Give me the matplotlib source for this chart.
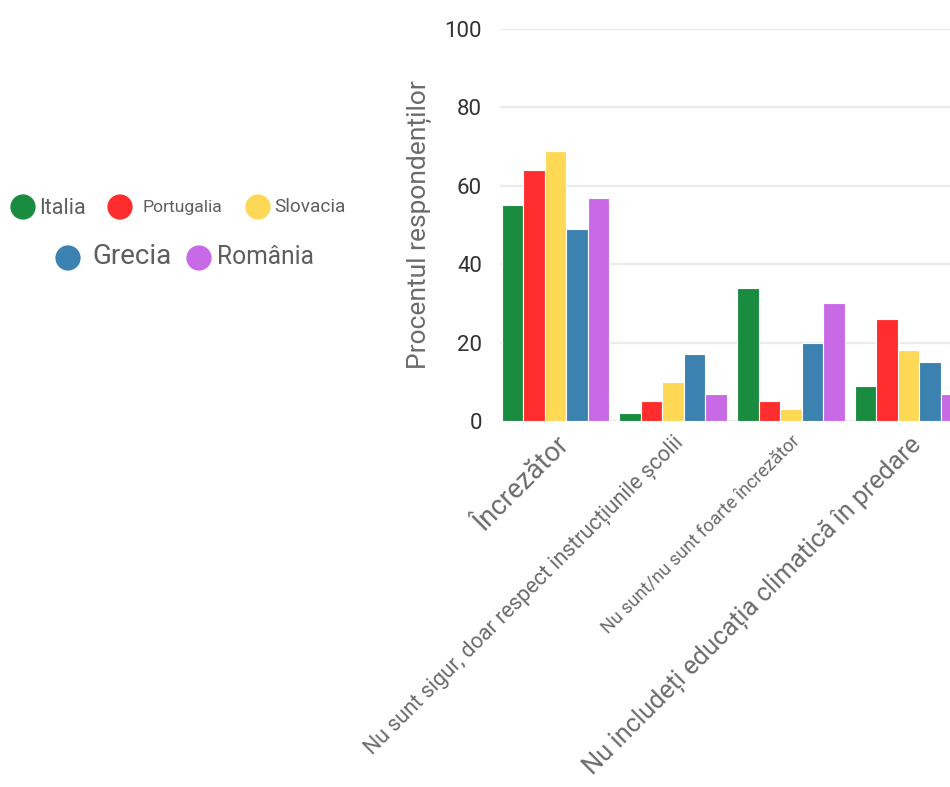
import numpy as np
import matplotlib
matplotlib.use('Agg')
import matplotlib.pyplot as plt

plt.rcParams['font.family'] = ['Roboto', 'DejaVu Sans']

categories = [
    'Încrezător',
    'Nu sunt sigur, doar respect instrucțiunile școlii',
    'Nu sunt/nu sunt foarte încrezător',
    'Nu includeți educația climatică în predare',
]
series_names = ['Italia', 'Portugalia', 'Slovacia', 'Grecia', 'România']
italia = [55, 2, 34, 9]
portugalia = [64, 5, 5, 26]
slovacia = [69, 10, 3, 18]
grecia = [49, 17, 20, 15]
romania = [57, 7, 30, 7]
series_values = [italia, portugalia, slovacia, grecia, romania]
yticks = [0, 20, 40, 60, 80, 100]

colors = ['#1a8c40', '#ff2d2d', '#ffd955', '#3b82b0', '#c86ae6']
# the source chart uses a different font size for almost every label
cat_fontsizes = [19.5, 15.5, 13.2, 18.3]
leg_fontsizes = [15.5, 12.6, 13.7, 20, 17.7]

W, H = 950, 787
fig = plt.figure(figsize=(W / 100, H / 100), dpi=100)
ax = fig.add_axes([500 / W, 1 - 421 / H, 450 / W, 392 / H])

x = np.arange(len(categories))
step = 0.1827
for i, (name, vals) in enumerate(zip(series_names, series_values)):
    ax.bar(x + (i - 2) * step, vals, width=step, color=colors[i],
           edgecolor='white', linewidth=0.8, label=name, zorder=3)

ax.set_xlim(-0.472, 3.352)
ax.set_ylim(0, 100)
ax.set_yticks(yticks)
ax.set_yticklabels([str(v) for v in yticks], fontsize=16, color='#333333')
ax.tick_params(axis='y', length=0, pad=13)
ax.tick_params(axis='x', length=0, pad=8)
ax.grid(axis='y', color='#ebebeb', linewidth=1.6, zorder=0)
for s in ax.spines.values():
    s.set_visible(False)

ax.set_xticks(x)
ax.set_xticklabels(categories)
for lbl, fs in zip(ax.get_xticklabels(), cat_fontsizes):
    lbl.set_fontsize(fs)
    lbl.set_color('#6b6b6b')
    lbl.set_rotation(45)
    lbl.set_ha('right')
    lbl.set_va('top')
    lbl.set_rotation_mode('anchor')

ax.set_ylabel('Procentul respondenților', fontsize=19, color='#6b6b6b')
ax.yaxis.set_label_coords(-0.152, 0.5)

# legend drawn by hand: two centred rows with uneven text sizes
lax = fig.add_axes([0, 0, 1, 1], zorder=-1)
lax.set_xlim(0, W)
lax.set_ylim(H, 0)
lax.axis('off')
marker_xy = [(23, 207), (120, 207), (258, 207), (68, 258), (199, 258)]
text_xy = [(39, 214), (143, 212), (274, 212), (92, 264), (217, 264)]
for i, name in enumerate(series_names):
    lax.scatter(*marker_xy[i], s=330, color=colors[i], edgecolors='none')
    lax.text(*text_xy[i], name, fontsize=leg_fontsizes[i], color='#5e5e5e',
             ha='left', va='baseline')

fig.savefig('out.png', dpi=100)
